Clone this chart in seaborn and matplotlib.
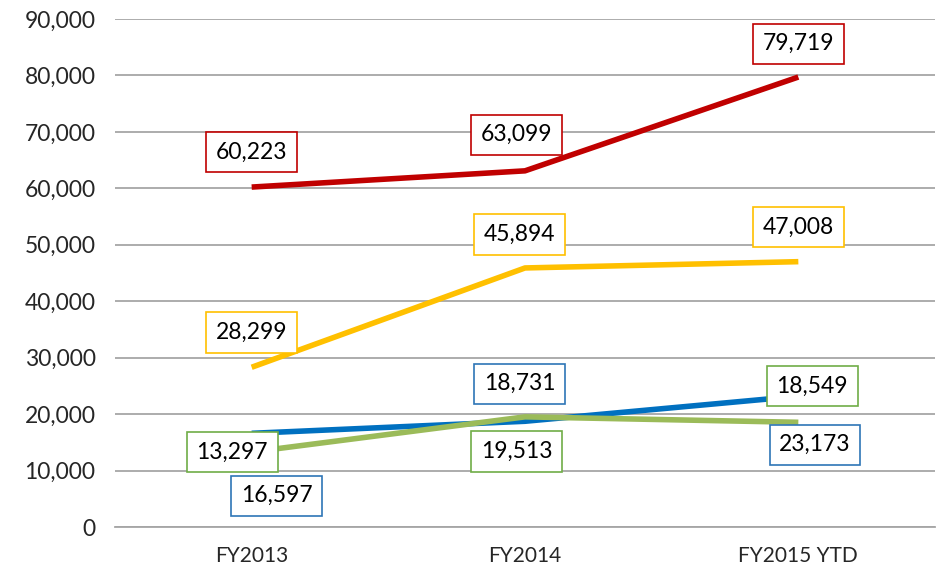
import matplotlib
matplotlib.use('Agg')
import matplotlib.pyplot as plt
import seaborn as sns
import pandas as pd
from matplotlib.ticker import FuncFormatter

years = ['FY2013', 'FY2014', 'FY2015 YTD']
red_vals = [60223, 63099, 79719]
yellow_vals = [28299, 45894, 47008]
blue_vals = [16597, 18731, 23173]
green_vals = [13297, 19513, 18549]

series = {'red': red_vals, 'yellow': yellow_vals, 'blue': blue_vals, 'green': green_vals}
colors = {'red': '#C00000', 'yellow': '#FFC000', 'blue': '#0070C0', 'green': '#9BBB59'}
box_colors = {'red': '#C00000', 'yellow': '#FFC000', 'blue': '#2E75B6', 'green': '#70AD47'}

# label offsets in points (dx, dy) from each point
offsets = {
    'red': [(0, 25), (-6, 26), (0, 24)],
    'yellow': [(0, 25), (-4, 24), (0, 25)],
    'blue': [(18, -45), (-4, 27), (12, -35)],
    'green': [(-14, 0), (-6, -25), (10, 26)],
}

rows = []
for name, vals in series.items():
    for i, v in enumerate(vals):
        rows.append({'year': i, 'value': v, 'series': name})
df = pd.DataFrame(rows)

sns.set_style('white')
plt.rcParams['font.family'] = ['Lato', 'DejaVu Sans']

fig = plt.figure(figsize=(9.39, 5.76), dpi=100)
ax = fig.add_axes([115 / 939, 1 - 527 / 576, 820 / 939, 508 / 576])

sns.lineplot(data=df, x='year', y='value', hue='series', palette=colors,
             hue_order=['red', 'yellow', 'blue', 'green'], linewidth=4,
             legend=False, ax=ax, solid_capstyle='butt')

ax.set_xlim(-0.5, 2.5)
ax.set_ylim(0, 90000)
ax.set_yticks(range(0, 90001, 10000))
ax.yaxis.set_major_formatter(FuncFormatter(lambda v, p: f'{int(v):,}'))
ax.set_xticks(range(len(years)))
ax.set_xticklabels(years, fontsize=15)
ax.tick_params(axis='y', labelsize=16.5, length=0, pad=14)
ax.tick_params(axis='x', length=0, pad=14)
ax.grid(axis='y', color='#A6A6A6', linewidth=1.3)
ax.set_axisbelow(True)
for s in ['top', 'right', 'left']:
    ax.spines[s].set_visible(False)
ax.spines['bottom'].set_color('#A6A6A6')
ax.spines['bottom'].set_linewidth(1.3)
ax.set_xlabel('')
ax.set_ylabel('')

for name in ['red', 'yellow', 'blue', 'green']:
    vals = series[name]
    for i in range(3):
        ax.annotate(f'{vals[i]:,}', xy=(i, vals[i]),
                    xytext=offsets[name][i], textcoords='offset points',
                    ha='center', va='center', fontsize=16.5, color='black',
                    bbox=dict(boxstyle='square,pad=0.42', fc='white',
                              ec=box_colors[name], lw=1.2))

fig.savefig('out.png', dpi=100)
